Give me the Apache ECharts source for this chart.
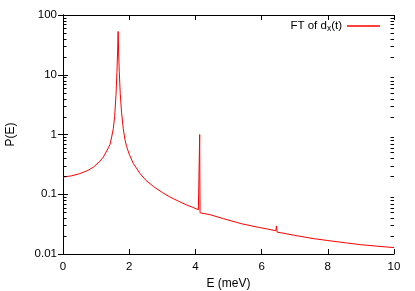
<!DOCTYPE html>
<html>
<head>
<meta charset="utf-8">
<script src="https://cdn.jsdelivr.net/npm/echarts@6/dist/echarts.min.js"></script>
<style>
html,body{margin:0;padding:0;background:#fff;}
#chart{width:415px;height:291px;}
</style>
</head>
<body>
<div id="chart"></div>
<script>
// Energies (meV)
var energies = [0, 0.25, 0.5, 0.75, 0.92, 1.1, 1.22, 1.32, 1.37, 1.42, 1.47, 1.52, 1.56, 1.6, 1.63, 1.65, 1.665,
  1.68, 1.7, 1.73, 1.77, 1.82, 1.87, 1.92, 2.0, 2.12, 2.33, 2.5, 2.73, 3.0, 3.23, 3.5, 3.74, 3.9, 4.09,
  4.12, 4.13, 4.14, 4.2, 4.44, 4.85, 5.4, 5.9, 6.2, 6.43, 6.45, 6.47, 6.56, 7.0, 7.56, 8.0, 8.57, 9.0, 9.5, 10];
// Power P(E) values
var power = [0.194, 0.203, 0.221, 0.25, 0.285, 0.35, 0.42, 0.53, 0.60, 0.68, 0.91, 1.25, 2.0, 4.5, 11, 25, 53,
  25, 11.2, 4.8, 2.3, 1.26, 0.83, 0.63, 0.47, 0.33, 0.221, 0.172, 0.135, 0.107, 0.09, 0.076, 0.066, 0.061, 0.055,
  0.054, 1.0, 0.049, 0.0485, 0.0455, 0.039, 0.032, 0.028, 0.026, 0.0245, 0.0295, 0.0232, 0.0228, 0.0205, 0.0181, 0.0168, 0.0153, 0.0143, 0.0135, 0.0128];
var xTicks = [0, 2, 4, 6, 8, 10];
var yTicks = [0.01, 0.1, 1, 10, 100];
var seriesName = 'FT of d_x(t)';

var data = energies.map(function (e, i) { return [e, power[i]]; });
var font = '"Liberation Sans", Arial, sans-serif';
var chart = echarts.init(document.getElementById('chart'), null, {renderer: 'canvas'});
var axisLineStyle = {color: '#000', width: 1};
var option = {
  animation: false,
  backgroundColor: '#fff',
  grid: {left: 63, right: 21, top: 15, bottom: 37, containLabel: false, outerBoundsMode: 'none'},
  legend: {
    right: 35, top: 20, padding: 0,
    itemWidth: 33, itemHeight: 1.5, icon: 'rect',
    align: 'right',
    data: [seriesName],
    formatter: function () { return '{n|FT of d}{s|x}{n|(t)}'; },
    textStyle: {
      fontFamily: font, fontSize: 11.5, color: '#000',
      rich: {
        n: {fontFamily: font, fontSize: 11.5, color: '#000'},
        s: {fontFamily: font, fontSize: 8.5, color: '#000', padding: [6, 0, 0, 0]}
      }
    }
  },
  xAxis: [{
    type: 'value', min: xTicks[0], max: xTicks[xTicks.length - 1], interval: 2,
    name: 'E (meV)', nameLocation: 'middle', nameGap: 23,
    nameTextStyle: {fontFamily: font, fontSize: 12, color: '#000'},
    axisLine: {show: true, lineStyle: axisLineStyle},
    axisTick: {show: true, inside: true, length: 5, lineStyle: axisLineStyle},
    axisLabel: {fontFamily: font, fontSize: 11.5, color: '#000', margin: 7},
    splitLine: {show: false}
  }, {
    type: 'value', position: 'top', min: xTicks[0], max: xTicks[xTicks.length - 1], interval: 2,
    axisLine: {show: true, lineStyle: axisLineStyle},
    axisTick: {show: true, inside: true, length: 5, lineStyle: axisLineStyle},
    axisLabel: {show: false},
    splitLine: {show: false}
  }],
  yAxis: [{
    type: 'log', logBase: 10, min: yTicks[0], max: yTicks[yTicks.length - 1],
    name: 'P(E)', nameLocation: 'middle', nameGap: 46,
    nameTextStyle: {fontFamily: font, fontSize: 12, color: '#000'},
    axisLine: {show: true, lineStyle: axisLineStyle},
    axisTick: {show: true, inside: true, length: 5, lineStyle: axisLineStyle},
    axisLabel: {fontFamily: font, fontSize: 11.5, color: '#000', margin: 6,
      formatter: function (v) { return String(+v.toPrecision(3)); }},
    splitLine: {show: false}
  }, {
    type: 'log', logBase: 10, position: 'right', min: yTicks[0], max: yTicks[yTicks.length - 1],
    axisLine: {show: true, lineStyle: axisLineStyle},
    axisTick: {show: true, inside: true, length: 5, lineStyle: axisLineStyle},
    axisLabel: {show: false},
    splitLine: {show: false}
  }],
  series: [{
    name: seriesName, type: 'line', xAxisIndex: 0, yAxisIndex: 0,
    data: data, showSymbol: false, symbol: 'none',
    lineStyle: {color: '#ff0000', width: 1},
    itemStyle: {color: '#ff0000'}
  }]
};
chart.setOption(option);

// Minor log ticks (2..9 per decade) on left and right borders, placed through the axis scale
var minors = [];
for (var k = -2; k < 2; k++) {
  for (var m = 2; m <= 9; m++) {
    var v = m * Math.pow(10, k);
    var pL = chart.convertToPixel({gridIndex: 0}, [xTicks[0], v]);
    var pR = chart.convertToPixel({gridIndex: 0}, [xTicks[xTicks.length - 1], v]);
    var py = Math.round(pL[1]) + 0.5;
    minors.push({type: 'line', shape: {x1: pL[0], y1: py, x2: pL[0] + 3.5, y2: py}, style: {stroke: '#000', lineWidth: 1}, silent: true, z: 100});
    minors.push({type: 'line', shape: {x1: pR[0] - 3.5, y1: py, x2: pR[0], y2: py}, style: {stroke: '#000', lineWidth: 1}, silent: true, z: 100});
  }
}
chart.setOption({graphic: {elements: minors}});
</script>
</body>
</html>
